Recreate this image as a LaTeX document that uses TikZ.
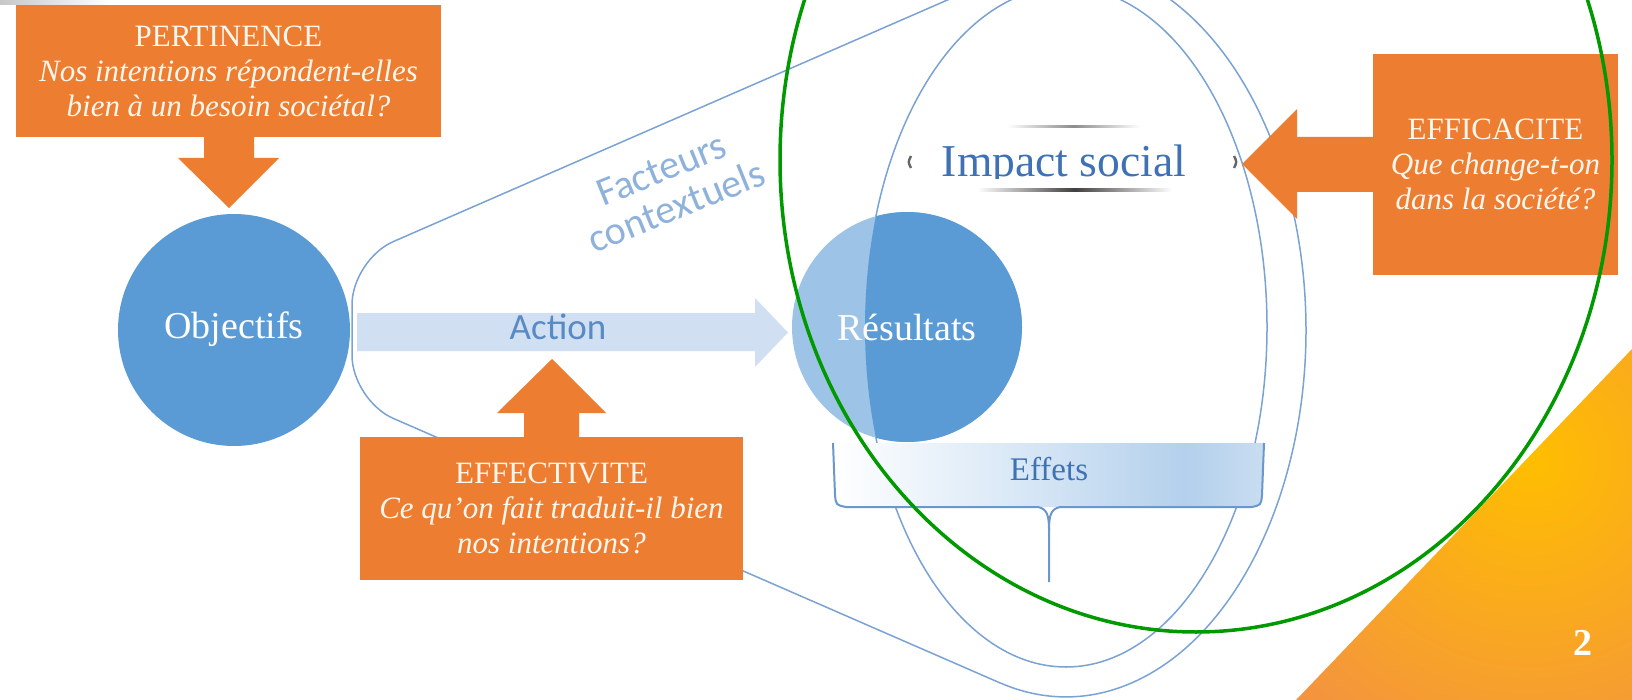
\documentclass[tikz,border=0pt]{standalone}
\usepackage{fontspec}
\setmainfont{Liberation Serif}
\newfontfamily\sansf{Carlito}
\definecolor{orng}{RGB}{237,125,49}
\definecolor{boxtxt}{RGB}{255,247,238}
\definecolor{bluec}{RGB}{91,155,213}
\definecolor{bluelight}{RGB}{157,195,230}
\definecolor{actfill}{RGB}{209,223,242}
\definecolor{linec}{RGB}{122,163,212}
\definecolor{bracec}{RGB}{106,152,204}
\definecolor{txtblue}{RGB}{63,114,181}
\definecolor{acttxt}{RGB}{88,138,198}
\definecolor{factc}{RGB}{143,178,220}
\definecolor{greenc}{RGB}{0,153,0}
\definecolor{efa}{RGB}{216,231,246}
\definecolor{efb}{RGB}{180,208,236}
\definecolor{efc}{RGB}{200,221,241}
\definecolor{yel}{RGB}{255,190,0}
\definecolor{orn2}{RGB}{243,146,66}
\pgfdeclarehorizontalshading{effetsshade}{100bp}{color(0bp)=(white); color(25bp)=(white); color(47bp)=(efa); color(66bp)=(efb); color(75bp)=(efc); color(100bp)=(efc)}
\newcommand\boxfont{\fontsize{15.5pt}{17.5pt}\selectfont}
\newcommand\circfont{\fontsize{19pt}{22pt}\selectfont}
\begin{document}
\begin{tikzpicture}[x=0.5pt,y=-0.5pt,
  obox/.style={fill=orng, text=boxtxt, align=center, inner sep=0pt, font=\boxfont},
  thinline/.style={draw=linec, line width=0.75pt},
  bracestyle/.style={draw=bracec, line width=1pt},
  blockarrow/.style={fill=orng},
  circtext/.style={text=white, font=\circfont, inner sep=0pt},
]
\useasboundingbox (0,0) rectangle (1632,700);
\clip (0,0) rectangle (1632,700);
\fill[white] (0,0) rectangle (1632,700);

% slide shadow top-left
\shade[left color=black!22, right color=white] (0,0) rectangle (110,5);

% orange corner triangle
\begin{scope}
\clip (1296,700) -- (1632,349) -- (1632,700) -- cycle;
\shade[inner color=yel, outer color=orn2] (1530,458) circle[radius=170pt];
\end{scope}

% funnel (contextual factors)
\draw[thinline, rounded corners=22.5pt] (1000.2,-23) -- (352,259.6) -- (352,400.4) -- (1000.2,683);
\draw[thinline] (1000.2,-23) arc[start angle=105.9, end angle=-105.9, x radius=120pt, y radius=183.5pt];
% inner ellipse
\draw[thinline] (1066,327) ellipse[x radius=100.5pt, y radius=170pt];

% Action arrow
\fill[actfill] (357,313) -- (755,313) -- (755,298) -- (788,332.5) -- (755,367) -- (755,351) -- (357,351) -- cycle;
\node[font=\sansf\fontsize{18.5pt}{20pt}\selectfont, text=acttxt, inner sep=0pt] (action) at (558,327) {Action};

% Facteurs contextuels
\node[rotate=22, font=\sansf\fontsize{20pt}{20pt}\selectfont, text=factc, align=center, inner sep=0pt] (fact) at (669,188) {Facteurs\\contextuels};

% Objectifs
\node[circle, fill=bluec, minimum size=116pt, inner sep=0pt] (obj) at (234,330) {};
\node[circtext] (objlbl) at (234,329) {Objectifs};

% Resultats
\node[circle, fill=bluelight, minimum size=115pt, inner sep=0pt] (res) at (907,327) {};
\begin{scope}
\clip (1066,327) ellipse[x radius=100.5pt, y radius=170pt];
\fill[bluec] (res.center) circle[radius=57.5pt];
\end{scope}
\node[circtext] (reslbl) at (907,327) {Résultats};

% Effets bracket
\shade[shading=effetsshade] (833,443) -- (835,495) .. controls (836,505) .. (846,507) -- (1252,507) .. controls (1261,505) .. (1262,495) -- (1264,443) -- cycle;
\coordinate (brtip) at (1049,582);
\draw[bracestyle] (833,443) -- (835,495) .. controls (836,505) .. (846,507) -- (1038,507) .. controls (1047,509) and (1049,515) .. (1049,530) -- (brtip);
\draw[bracestyle] (1264,443) -- (1262,495) .. controls (1261,505) .. (1252,507) -- (1060,507) .. controls (1051,509) and (1049,515) .. (1049,530);
\node[font=\fontsize{16.5pt}{18pt}\selectfont, text=txtblue, inner sep=0pt] (effets) at (1049,469) {Effets};

% Impact social
\begin{scope}
\clip (900,100) rectangle (1240,178.5);
\node[anchor=base, font=\fontsize{22.8pt}{26pt}\selectfont, text=txtblue, inner sep=0pt] (impact) at (1064,177) {Impact social};
\end{scope}
\shade[left color=white, right color=white, middle color=black!45] (1007,126) rectangle (1140,128);
\shade[left color=white, right color=white, middle color=black!75] (977,189) rectangle (1172,192);
\draw[black!60, line width=1.2pt] (911,156) .. controls (908,162) .. (911,168);
\draw[black!60, line width=1.2pt] (1234,156) .. controls (1237,162) .. (1234,168);

% PERTINENCE
\node[obox, minimum width=212.5pt, minimum height=66pt] (pert) at (228.5,71)
  {PERTINENCE\\\textit{Nos intentions répondent-elles}\\\textit{bien à un besoin sociétal?}};
\fill[blockarrow] (204,136) -- (254,136) -- (254,158) -- (279,158) -- (229,208) -- (178,158) -- (204,158) -- cycle;

% EFFECTIVITE
\node[obox, minimum width=191.5pt, minimum height=71.5pt] (effect) at (551.5,508.5)
  {EFFECTIVITE\\\textit{Ce qu’on fait traduit-il bien}\\\textit{nos intentions?}};
\fill[blockarrow] (524,438) -- (524,413) -- (497,413) -- (552,359) -- (606,413) -- (579,413) -- (579,438) -- cycle;

% EFFICACITE
\node[obox, minimum width=122.5pt, minimum height=110.5pt] (effic) at (1495.5,164.5)
  {EFFICACITE\\\textit{Que change-t-on}\\\textit{dans la société?}};
\fill[blockarrow] (1374,137) -- (1297,137) -- (1297,109) -- (1242,164) -- (1297,219) -- (1297,192) -- (1374,192) -- cycle;

% green highlight
\draw[greenc, line width=1.75pt] (1196,160) ellipse[x radius=208pt, y radius=236pt];

% page number
\node[font=\bfseries\fontsize{19pt}{20pt}\selectfont, text=white, inner sep=0pt] (pnum) at (1583,643) {2};
\end{tikzpicture}
\end{document}
